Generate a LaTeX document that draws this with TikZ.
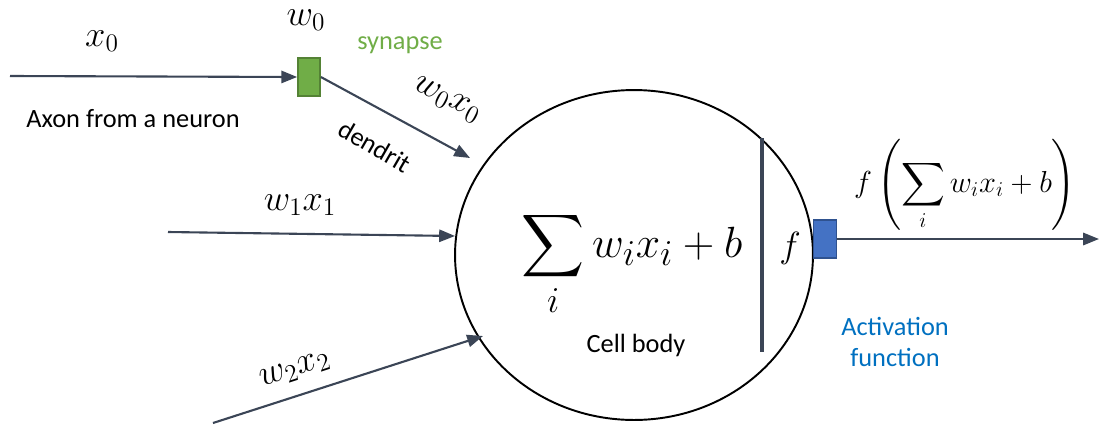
\documentclass[tikz,border=0pt]{standalone}
\usepackage{amsmath}
\usepackage{fontspec}
\setmainfont{Carlito}
\usepackage{xcolor}
\usepackage{tikz}
\usetikzlibrary{positioning}
\usetikzlibrary{arrows.meta}
\usetikzlibrary{shapes.geometric}

\definecolor{slate}{HTML}{3B4556}
\definecolor{synfill}{HTML}{70AD47}
\definecolor{synline}{HTML}{548235}
\definecolor{actfill}{HTML}{4472C4}
\definecolor{actline}{HTML}{2F528F}
\definecolor{acttext}{HTML}{0070C0}

\begin{document}
\begin{tikzpicture}[x=0.02cm,y=-0.02cm,
    wire/.style={draw=slate,line width=1.2pt,-{Triangle[length=9pt,width=7pt]}},
    weight/.style={font=\fontsize{21}{25}\selectfont,inner sep=0.5pt},
    note/.style={font=\fontsize{15}{18}\selectfont,inner sep=0.5pt},
    synbox/.style={draw=synline,fill=synfill,line width=1pt,minimum width=0.44cm,minimum height=0.76cm,inner sep=0pt},
    actbox/.style={draw=actline,fill=actfill,line width=1pt,minimum width=0.46cm,minimum height=0.76cm,inner sep=0pt}]
    \useasboundingbox (0,0) rectangle (1100,427);

    % cell body
    \node[draw,ellipse,line width=1.1pt,minimum width=7.16cm,minimum height=6.6cm] (body) at (634,255) {};
    \draw[slate,line width=1.8pt] (762,138) -- (762,352);

    \node[anchor=base,font=\fontsize{30}{36}\selectfont] (sum) at (632,257) {$\displaystyle\sum_i w_i x_i + b$};
    \node[anchor=base,font=\fontsize{22}{26}\selectfont] (fin) at (790,257) {$f$};
    \node[note] (cell) at (636,345) {Cell body};

    % synapse and activation
    \node[synbox] (syn) at (309,77) {};
    \node[actbox] (act) at (825,239) {};

    \coordinate (axon) at (10,76);
    \coordinate (d0) at (470,158);
    \coordinate (i1) at (168,232);
    \coordinate (d1) at (455,236);
    \coordinate (i2) at (213,423);
    \coordinate (d2) at (483,336);
    \coordinate (out) at (1099,239);

    \draw[wire] (axon) -- (syn.west);
    \draw[wire] (syn.east) -- (d0);
    \draw[wire] (i1) -- (d1);
    \draw[wire] (i2) -- (d2);
    \draw[wire] (act.east) -- (out);

    % labels
    \node[weight] (lx0) at (102,41) {$x_0$};
    \node[weight] (lw0) at (306,20) {$w_0$};
    \node[note,text=synfill] (lsyn) at (400,45) {synapse};
    \node[note] (laxon) at (133,119) {Axon from a neuron};
    \node[weight,rotate=-27] (lw0x0) at (447,100) {$w_0x_0$};
    \node[note,rotate=-30] (ldend) at (375,146) {dendrit};
    \node[weight] (lw1x1) at (300,205) {$w_1x_1$};
    \node[weight,rotate=18] (lw2x2) at (295,370) {$w_2x_2$};
    \node[anchor=base,font=\fontsize{17}{21}\selectfont] (lout) at (965,192) {$f\left(\displaystyle\sum_i w_i x_i + b\right)$};
    \node[note,text=acttext,align=center] (lact) at (895,342) {Activation\\function};
\end{tikzpicture}
\end{document}
